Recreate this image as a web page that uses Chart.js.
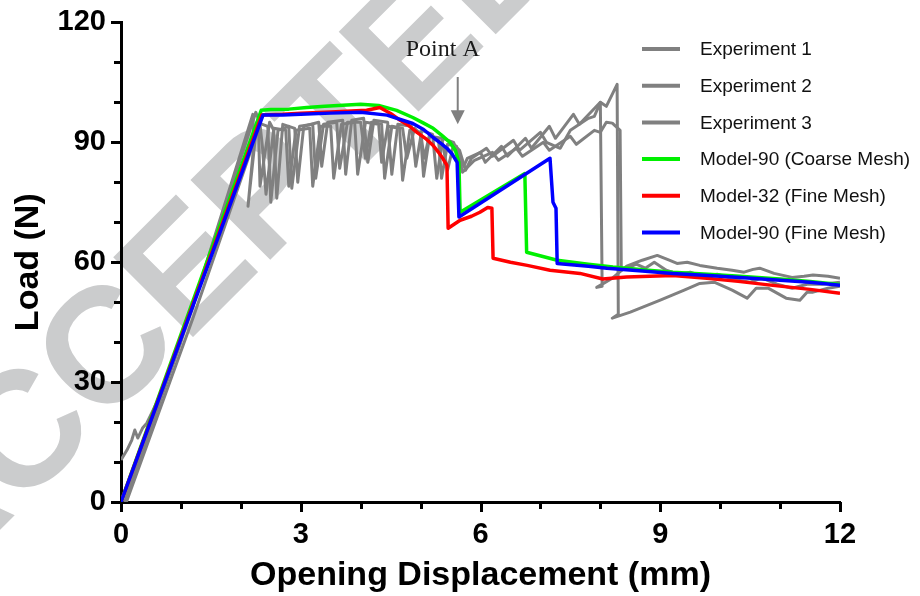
<!DOCTYPE html>
<html>
<head>
<meta charset="utf-8">
<script src="https://cdn.jsdelivr.net/npm/chart.js@4.4.0/dist/chart.umd.min.js"></script>
<style>
  html, body { margin: 0; padding: 0; background: #fff; }
  #wrap { width: 920px; height: 596px; }
</style>
</head>
<body>
<div id="wrap"><canvas id="loadChart" width="920" height="596"></canvas></div>
<script>
"use strict";

// load vs opening displacement, [mm, N]
var exp1 = [[0.06,0],[1.0,40],[2.25,97.5],[2.29,96],[2.32,79],[2.38,85],[2.48,95],[2.55,93],[2.6,76],[2.7,94.5],[2.9,93.5],[2.95,80],[3.05,94],[3.3,95],[3.35,84],[3.45,95],[3.7,95.5],[3.75,82],[3.85,95.5],[4.05,96],[4.12,85],[4.22,95.5],[4.45,95],[4.52,82],[4.62,94.5],[4.85,94],[4.92,84],[5.02,93],[5.2,92],[5.27,81],[5.37,91],[5.55,90],[5.72,84],[5.78,86],[6.0,87.5],[6.08,85],[6.35,89],[6.45,86.5],[6.75,91],[6.85,88.5],[7.15,94],[7.25,91],[7.55,97],[7.65,94.5],[8.0,100],[8.1,99],[8.28,104.5],[8.3,47],[8.2,46],[8.5,47.5],[9.0,50.5],[9.4,53],[9.66,54.7],[9.9,55],[10.2,53],[10.45,51],[10.6,53.5],[10.8,53.5],[11.1,51],[11.33,50.5],[11.45,52.5],[11.55,52.5],[11.8,53.5],[12,54]];

var exp2 = [[0,10.5],[0.1,13],[0.18,15.5],[0.23,18],[0.28,16],[0.36,18.5],[0.43,19.7],[0.6,25],[1.2,49],[2.2,97],[2.22,90],[2.12,74],[2.27,95],[2.45,94],[2.5,75],[2.62,93],[2.8,94],[2.85,78.5],[2.98,94],[3.2,94.5],[3.25,81],[3.38,94.5],[3.6,95],[3.65,83.5],[3.78,95],[4.0,95],[4.08,86],[4.18,95],[4.35,94.5],[4.4,81],[4.52,94],[4.7,93.5],[4.77,86],[4.9,93.5],[5.0,92],[5.05,81.5],[5.15,91.5],[5.35,91],[5.45,83],[5.55,89.5],[5.65,88],[5.75,83],[5.85,86],[6.1,88.5],[6.2,86.5],[6.55,90.5],[6.65,88],[7.0,92.5],[7.1,90],[7.33,88.5],[7.5,93],[7.8,96],[7.9,96.5],[8.0,100],[8.03,54],[7.94,53.7],[8.2,56],[8.44,59],[8.7,60.5],[8.95,61.7],[9.15,60.5],[9.28,59.7],[9.45,60],[9.66,59.2],[9.95,58.5],[10.2,58],[10.4,57.5],[10.55,58.2],[10.66,58.5],[10.9,57.2],[11.2,56.2],[11.4,56.5],[11.55,56.8],[11.8,56.5],[12,56]];

var exp3 = [[0.09,0],[1.2,46],[2.32,94.5],[2.36,89],[2.42,77],[2.55,93.5],[2.75,93],[2.8,79],[2.92,93],[3.15,93.5],[3.2,79],[3.33,94],[3.5,94],[3.55,81],[3.68,94.5],[3.9,95],[3.95,82],[4.08,95],[4.3,94.5],[4.35,85],[4.45,94],[4.65,93.5],[4.7,80.5],[4.82,93],[5.0,92.5],[5.06,86],[5.15,92],[5.3,90.5],[5.35,81],[5.45,89.5],[5.6,89],[5.7,82.5],[5.9,85.5],[6.2,87.5],[6.3,85.5],[6.6,88.5],[6.7,86.5],[7.05,90],[7.15,88],[7.5,91.5],[7.6,89.5],[7.9,93],[8.0,92.5],[8.1,95],[8.2,94.8],[8.33,93],[8.35,58],[8.45,58.5],[8.6,59.5],[8.75,58.5],[8.9,60],[9.1,58],[9.3,57],[9.5,57.5],[9.7,56.5],[9.95,57],[10.3,55.5],[10.5,55],[10.7,56],[10.95,54.5],[11.2,53.5],[11.45,54.5],[11.7,54.5],[12,55]];

var coarse90 = [[0,0],[2.34,98],[2.5,98.2],[2.8,98.3],[3.1,98.7],[3.4,99],[3.7,99.3],[4.0,99.5],[4.3,99.2],[4.6,98],[4.87,96.2],[5.05,94.8],[5.21,93.5],[5.35,91.8],[5.49,90],[5.58,88],[5.64,85],[5.66,72.5],[6.74,82.2],[6.77,62.5],[7.28,60.5],[7.8,59.5],[8.21,58.8],[8.8,58],[9.21,57.5],[9.8,57],[10.33,56.5],[11.0,55.8],[11.5,55.2],[12,54.4]];

var fine32 = [[0,0],[2.35,96.8],[2.7,97],[3.0,97.3],[3.5,97.6],[4.1,98],[4.32,98.7],[4.5,97.2],[4.66,95.5],[4.8,94.2],[4.94,92.5],[5.08,91],[5.21,89.2],[5.3,87.5],[5.37,86],[5.44,84.2],[5.46,68.5],[5.66,70.5],[5.85,71.5],[5.99,72.5],[6.12,73.7],[6.19,73.5],[6.21,61],[6.5,60],[6.78,59.2],[7.16,58],[7.66,57.2],[8.04,55.8],[8.44,56.3],[9.21,56.7],[9.78,56],[10.3,55.2],[10.88,54.2],[11.5,53.2],[12,52.2]];

var fine90 = [[0,0],[2.37,96.8],[2.7,96.8],[3.0,97],[3.5,97.3],[4.0,97.5],[4.44,96.8],[4.87,94.7],[5.05,93.2],[5.21,91.2],[5.35,89.6],[5.44,88.5],[5.53,87],[5.61,85],[5.64,71.3],[7.16,86],[7.21,75],[7.26,73.5],[7.28,59.7],[7.8,59],[8.11,58.5],[8.7,57.8],[9.21,57.2],[9.8,56.7],[10.33,56.2],[11.0,55.5],[11.5,55],[12,54.2]];

var seriesNames = ['Experiment 1', 'Experiment 2', 'Experiment 3',
  'Model-90 (Coarse Mesh)', 'Model-32 (Fine Mesh)', 'Model-90 (Fine Mesh)'];
var xTicks = [0, 3, 6, 9, 12];
var yTicks = [0, 30, 60, 90, 120];
var pointAX = 5.62;
var pointAY = 94.5;

var colors = ['#808080', '#808080', '#808080', '#00f000', '#ff0000', '#0000ff'];
var widths = [3, 3, 3, 3.5, 3.5, 3.5];
var drawOrder = [5, 4, 3, 2, 1, 0];
var series = [exp1, exp2, exp3, coarse90, fine32, fine90];

var datasets = series.map(function (s, i) {
  return {
    label: seriesNames[i],
    data: s.map(function (p) { return { x: p[0], y: p[1] }; }),
    showLine: true,
    borderColor: colors[i],
    backgroundColor: colors[i],
    borderWidth: widths[i],
    borderJoinStyle: 'round',
    pointRadius: 0,
    tension: 0,
    order: drawOrder[i]
  };
});

// white page + diagonal stamp behind everything
var stamp = {
  id: 'stamp',
  beforeDraw: function (chart) {
    var ctx = chart.ctx;
    ctx.save();
    ctx.fillStyle = '#fff';
    ctx.fillRect(0, 0, chart.width, chart.height);
    ctx.translate(-66, 596);
    ctx.rotate(-Math.PI / 4);
    ctx.font = 'bold 164px "Liberation Sans", Arial, sans-serif';
    ctx.fillStyle = '#cbcccd';
    ctx.textBaseline = 'alphabetic';
    ctx.fillText('ACCEPTED MANUSCRIPT', 0, 0);
    ctx.restore();
  }
};

// major / minor tick marks
var tickMarks = {
  id: 'tickMarks',
  afterDraw: function (chart) {
    var ctx = chart.ctx;
    var xs = chart.scales.x, ys = chart.scales.y;
    ctx.save();
    ctx.strokeStyle = '#000';
    ctx.lineWidth = 3;
    ctx.beginPath();
    xs.ticks.forEach(function (t) {
      var px = Math.round(xs.getPixelForValue(t.value)) + 0.5;
      var len = xTicks.indexOf(t.value) >= 0 ? 10 : 7;
      ctx.moveTo(px, xs.top);
      ctx.lineTo(px, xs.top + len);
    });
    ys.ticks.forEach(function (t) {
      var py = Math.round(ys.getPixelForValue(t.value)) + 0.5;
      var len = yTicks.indexOf(t.value) >= 0 ? 10 : 7;
      ctx.moveTo(ys.right, py);
      ctx.lineTo(ys.right - len, py);
    });
    ctx.stroke();
    ctx.restore();
  }
};

// legend box at top right and the Point A arrow
var notes = {
  id: 'notes',
  afterDraw: function (chart) {
    var ctx = chart.ctx;
    ctx.save();
    ctx.font = '19px "Liberation Sans", Arial, sans-serif';
    ctx.textBaseline = 'middle';
    ctx.textAlign = 'left';
    chart.data.datasets.forEach(function (ds, i) {
      var y = 49 + i * 36.7;
      ctx.strokeStyle = ds.borderColor;
      ctx.lineWidth = 4;
      ctx.beginPath();
      ctx.moveTo(642, y);
      ctx.lineTo(680, y);
      ctx.stroke();
      ctx.fillStyle = '#111';
      ctx.fillText(ds.label, 700, y + 1);
    });

    var ax = chart.scales.x.getPixelForValue(pointAX);
    var tip = chart.scales.y.getPixelForValue(pointAY);
    ctx.strokeStyle = '#808080';
    ctx.fillStyle = '#808080';
    ctx.lineWidth = 2;
    ctx.beginPath();
    ctx.moveTo(ax, 77);
    ctx.lineTo(ax, tip - 12);
    ctx.stroke();
    ctx.beginPath();
    ctx.moveTo(ax - 7, tip - 14);
    ctx.lineTo(ax + 7, tip - 14);
    ctx.lineTo(ax, tip);
    ctx.closePath();
    ctx.fill();

    ctx.fillStyle = '#1a1a1a';
    ctx.font = '24px "Liberation Serif", "Times New Roman", serif';
    ctx.textAlign = 'center';
    ctx.textBaseline = 'alphabetic';
    ctx.fillText('Point A', ax - 15, 56);
    ctx.restore();
  }
};

var tickFont = { family: '"Liberation Sans", Arial, sans-serif', weight: 'bold', size: 29 };
var titleFont = { family: '"Liberation Sans", Arial, sans-serif', weight: 'bold', size: 34 };

var ctx = document.getElementById('loadChart').getContext('2d');
var loadChart = new Chart(ctx, {
  type: 'scatter',
  data: { datasets: datasets },
  options: {
    responsive: false,
    animation: false,
    layout: { padding: { top: 22, right: 80, left: 0, bottom: 0 } },
    plugins: {
      legend: { display: false },
      tooltip: { enabled: false }
    },
    scales: {
      x: {
        type: 'linear',
        min: 0,
        max: 12,
        ticks: {
          stepSize: 1,
          autoSkip: false,
          maxRotation: 0,
          padding: 6,
          color: '#000',
          font: tickFont,
          callback: function (v) { return xTicks.indexOf(v) >= 0 ? String(v) : ''; }
        },
        grid: { display: true, drawOnChartArea: false, drawTicks: true, tickLength: 10, tickColor: 'rgba(0,0,0,0)' },
        border: { display: true, color: '#000', width: 3 },
        title: { display: true, text: 'Opening Displacement (mm)', color: '#000', font: titleFont, padding: { top: 0, bottom: 0 } },
        afterFit: function (s) { s.height = 94; }
      },
      y: {
        type: 'linear',
        min: 0,
        max: 120,
        ticks: {
          stepSize: 10,
          autoSkip: false,
          padding: 5,
          color: '#000',
          font: tickFont,
          callback: function (v) { return yTicks.indexOf(v) >= 0 ? String(v) : ''; }
        },
        grid: { display: true, drawOnChartArea: false, drawTicks: true, tickLength: 10, tickColor: 'rgba(0,0,0,0)' },
        border: { display: true, color: '#000', width: 3 },
        title: { display: true, text: 'Load (N)', color: '#000', font: titleFont, padding: { top: 8, bottom: 0 } },
        afterFit: function (s) { s.width = 121; }
      }
    }
  },
  plugins: [stamp, tickMarks, notes]
});
</script>
</body>
</html>
